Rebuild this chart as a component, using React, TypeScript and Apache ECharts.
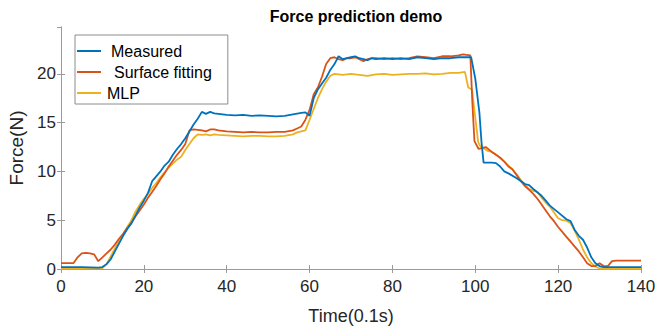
import React, { useEffect, useRef } from "react";
import * as echarts from "echarts";

const title = "Force prediction demo";
const xName = "Time(0.1s)";
const yName = "Force(N)";
const seriesNames = ["Measured", "Surface fitting", "MLP"];
const colors = ["#0072BD", "#D95319", "#EDB120"];

const measuredT = [0, 5, 9, 10, 11, 12, 13, 14, 15, 16, 17, 18, 19, 20, 21, 22, 23, 24, 25, 26, 27, 28, 29, 30, 31, 32, 33, 34, 35, 36, 37, 38, 40, 42, 44, 46, 48, 50, 52, 54, 56, 58, 59, 60, 61, 62, 63, 64, 65, 66, 67, 68, 69, 70, 71, 72, 73, 74, 75, 76, 78, 80, 82, 84, 86, 88, 90, 92, 94, 96, 98, 99, 100, 101, 101.5, 102, 104, 105, 106, 107, 108, 110, 112, 113, 114, 116, 117, 118, 120, 122, 123, 124, 125, 126, 127, 128, 129, 130, 131, 140];
const measuredV = [0.2, 0.2, 0.15, 0.2, 0.5, 1.0, 1.8, 2.6, 3.4, 4.1, 4.7, 5.5, 6.3, 7.0, 7.8, 9.0, 9.5, 10.0, 10.6, 11.0, 11.7, 12.3, 12.8, 13.4, 14.1, 14.8, 15.4, 16.1, 15.9, 16.1, 15.95, 15.9, 15.8, 15.75, 15.8, 15.7, 15.75, 15.7, 15.65, 15.7, 15.85, 16.0, 16.05, 15.7, 17.5, 18.4, 19.0, 19.6, 20.4, 21.0, 21.8, 21.5, 21.6, 21.7, 21.8, 21.6, 21.5, 21.4, 21.6, 21.5, 21.6, 21.5, 21.6, 21.5, 21.7, 21.6, 21.5, 21.6, 21.6, 21.7, 21.7, 21.7, 19.5, 16.0, 13.0, 10.9, 10.9, 10.85, 10.5, 10.0, 9.8, 9.3, 8.7, 8.6, 8.2, 7.5, 7.0, 6.5, 5.8, 5.1, 4.9, 4.0, 3.4, 3.0, 2.2, 1.2, 0.6, 0.3, 0.2, 0.2];

const surfaceT = [0, 3, 4, 5, 6, 7, 8, 9, 10, 11, 12, 13, 14, 15, 16, 17, 18, 19, 20, 21, 22, 23, 24, 25, 26, 27, 28, 29, 30, 31, 32, 33, 34, 35, 36, 37, 38, 40, 42, 44, 46, 48, 50, 52, 54, 56, 57, 58, 59, 60, 61, 62, 63, 64, 65, 66, 67, 68, 69, 70, 71, 72, 73, 74, 75, 76, 78, 80, 82, 84, 86, 88, 90, 92, 94, 96, 97, 98.8, 99.3, 99.8, 100.8, 102.5, 104, 105, 106, 107, 108, 109, 110, 111, 112, 113, 114, 115, 116, 117, 118, 119, 120, 121, 122, 123, 124, 125, 126, 127, 128, 129, 130, 131, 132, 133, 134, 140];
const surfaceV = [0.6, 0.6, 1.2, 1.6, 1.65, 1.6, 1.5, 0.8, 1.2, 1.6, 2.0, 2.5, 3.1, 3.6, 4.2, 4.7, 5.4, 6.0, 6.6, 7.3, 7.9, 8.5, 9.2, 9.8, 10.5, 11.1, 11.7, 12.2, 12.8, 14.2, 14.3, 14.25, 14.2, 14.1, 14.3, 14.3, 14.2, 14.1, 14.05, 14.0, 14.05, 14.0, 14.0, 14.05, 14.05, 14.2, 14.4, 14.6, 15.3, 16.3, 17.9, 18.6, 19.7, 21.0, 21.6, 21.7, 21.5, 21.4, 21.6, 21.6, 21.7, 21.5, 21.3, 21.5, 21.6, 21.6, 21.5, 21.6, 21.5, 21.6, 21.8, 21.7, 21.6, 21.8, 21.8, 21.9, 22.0, 21.9, 17.0, 13.1, 12.3, 12.5, 12.0, 11.7, 11.4, 11.0, 10.5, 10.2, 9.6, 9.0, 8.5, 8.1, 7.7, 7.2, 6.6, 6.0, 5.4, 4.9, 4.3, 3.8, 3.3, 2.8, 2.3, 1.8, 1.2, 0.6, 0.3, 0.3, 0.6, 0.3, 0.3, 0.8, 0.85, 0.85];

const mlpT = [0, 10, 11, 12, 13, 14, 15, 16, 17, 18, 19, 20, 21, 22, 23, 24, 25, 26, 27, 28, 29, 30, 31, 32, 33, 34, 35, 36, 37, 38, 40, 42, 44, 46, 48, 50, 52, 54, 56, 57, 58, 59, 60, 61, 62, 63, 64, 65, 66, 68, 70, 72, 74, 76, 78, 80, 82, 84, 86, 88, 90, 92, 94, 96, 97.5, 98.3, 99.2, 100, 100.7, 101.2, 103, 104, 105, 106, 107, 108, 109, 110, 111, 112, 113, 114, 115, 116, 117, 118, 119, 120, 121, 122, 123, 124, 125, 126, 127, 128, 129, 130, 140];
const mlpV = [0.05, 0.1, 0.5, 1.3, 2.1, 2.9, 3.6, 4.3, 5.0, 5.9, 6.6, 7.2, 7.7, 8.3, 8.8, 9.4, 9.9, 10.4, 10.8, 11.2, 11.5, 12.2, 12.8, 13.4, 13.8, 13.75, 13.8, 13.7, 13.8, 13.75, 13.7, 13.65, 13.6, 13.65, 13.65, 13.6, 13.6, 13.65, 13.8, 14.0, 14.1, 14.2, 15.3, 16.4, 17.5, 18.4, 19.2, 19.8, 20.0, 19.9, 20.0, 19.9, 19.8, 19.95, 20.0, 19.9, 19.95, 20.0, 20.0, 20.05, 19.95, 20.0, 20.1, 20.1, 20.2, 18.6, 18.4, 15.5, 13.0, 12.6, 12.1, 12.0, 11.7, 11.4, 11.0, 10.6, 10.2, 9.7, 9.1, 8.6, 8.2, 8.0, 7.9, 7.3, 6.8, 6.4, 5.8, 5.2, 5.0, 4.95, 4.7, 3.9, 3.0, 2.0, 1.2, 0.6, 0.25, 0.05, 0.05];

const xTicks = { min: 0, max: 140, interval: 20 };
const yTicks = { min: 0, max: 24.8, interval: 5 };

const zip = (t: number[], v: number[]) => t.map((x, i) => [x, v[i]]);

const FONT = "'Liberation Sans', Arial, sans-serif";
const AXIS_COLOR = "#9a9a9a";
const TEXT_COLOR = "#262626";

export default function App() {
  const ref = useRef<HTMLDivElement>(null);
  useEffect(() => {
    if (!ref.current) return;
    const chart = echarts.init(ref.current, undefined, { renderer: "svg" });
    const lineAxis = { show: true, lineStyle: { color: AXIS_COLOR, width: 1 } };
    const tick = { show: true, inside: true, length: 4, lineStyle: { color: AXIS_COLOR } };
    const datasets = [zip(measuredT, measuredV), zip(surfaceT, surfaceV), zip(mlpT, mlpV)];
    chart.setOption({
      animation: false,
      backgroundColor: "#ffffff",
      textStyle: { fontFamily: FONT },
      title: {
        text: title,
        left: 351,
        textAlign: "center",
        top: 3,
        textStyle: { fontFamily: FONT, fontSize: 16, fontWeight: "bold", color: "#000" },
      },
      legend: {
        orient: "vertical",
        left: 75,
        top: 35,
        padding: [8, 16, 3, 2],
        icon: "rect",
        itemWidth: 24,
        itemHeight: 2,
        itemGap: 5,
        borderColor: "#8c8c8c",
        borderWidth: 1,
        backgroundColor: "#fff",
        data: seriesNames,
        formatter: (name: string) => {
          const idx = seriesNames.indexOf(name);
          return `{${["a", "b", "c"][idx]}|${name}}`;
        },
        textStyle: {
          fontFamily: FONT,
          fontSize: 16,
          color: "#000",
          rich: {
            a: { fontFamily: FONT, fontSize: 16, color: "#000", padding: [0, 0, 0, 5] },
            b: { fontFamily: FONT, fontSize: 16, color: "#000", padding: [0, 0, 0, 8] },
            c: { fontFamily: FONT, fontSize: 16, color: "#000", padding: [0, 0, 0, 1] },
          },
        },
      },
      grid: { left: 61, right: 22, top: 27, bottom: 62, outerBoundsMode: "none" },
      xAxis: [
        {
          type: "value",
          ...xTicks,
          name: xName,
          nameLocation: "middle",
          nameGap: 38,
          nameTextStyle: { fontFamily: FONT, fontSize: 18, color: TEXT_COLOR },
          axisLine: lineAxis,
          axisTick: tick,
          splitLine: { show: false },
          axisLabel: { fontFamily: FONT, fontSize: 17, color: TEXT_COLOR, margin: 9 },
        },
        {
          type: "value",
          position: "top",
          ...xTicks,
          axisLine: lineAxis,
          axisTick: tick,
          splitLine: { show: false },
          axisLabel: { show: false },
        },
      ],
      yAxis: [
        {
          type: "value",
          ...yTicks,
          name: yName,
          nameLocation: "middle",
          nameGap: 33,
          nameTextStyle: { fontFamily: FONT, fontSize: 19, color: TEXT_COLOR },
          axisLine: lineAxis,
          axisTick: tick,
          splitLine: { show: false },
          axisLabel: { fontFamily: FONT, fontSize: 17, color: TEXT_COLOR, margin: 5, showMaxLabel: false },
        },
        {
          type: "value",
          position: "right",
          ...yTicks,
          axisLine: lineAxis,
          axisTick: tick,
          splitLine: { show: false },
          axisLabel: { show: false },
        },
      ],
      series: seriesNames.map((name, i) => ({
        name,
        type: "line",
        data: datasets[i],
        symbol: "none",
        color: colors[i],
        lineStyle: { width: 1.8, color: colors[i] },
        xAxisIndex: 0,
        yAxisIndex: 0,
        z: 3 - i,
      })),
    });
    return () => chart.dispose();
  }, []);
  return <div ref={ref} style={{ width: 663, height: 331, marginLeft: -8, marginTop: -8 }} />;
}
